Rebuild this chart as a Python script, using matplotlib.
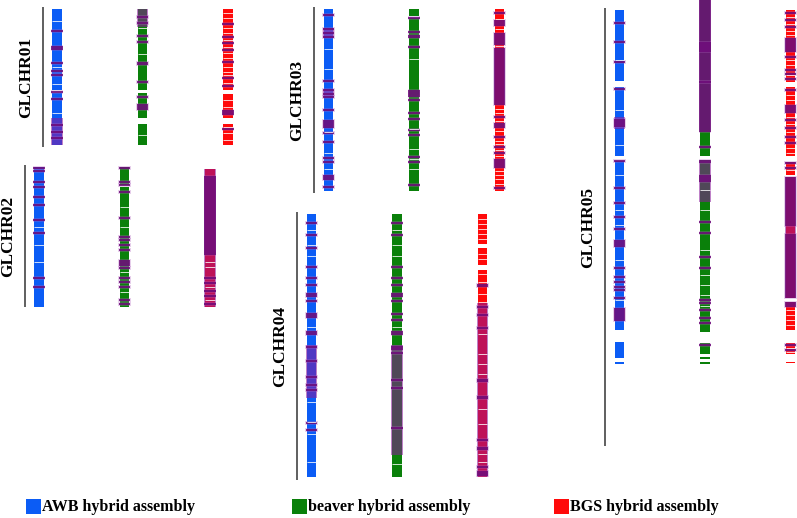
import matplotlib
matplotlib.use('Agg')
import matplotlib.pyplot as plt

# ---------------- data (positions along each chromosome, Mb-like units) ----------------
chromosomes = ['GLCHR01', 'GLCHR02', 'GLCHR03', 'GLCHR04', 'GLCHR05']
reference_length = [140, 142, 186, 268, 438]
assemblies = ['AWB hybrid assembly', 'beaver hybrid assembly', 'BGS hybrid assembly']
assembly_colors = ['#0b5cf5', '#0a800a', '#ff0a0a']

# AWB hybrid assembly
awb_segments = [
    [(0, 81), (84, 136)],
    [(0, 140)],
    [(0, 182)],
    [(0, 263)],
    [(0, 71), (77, 146), (151, 320), (332, 348), (352, 354)],
]
awb_bands = [
    [(21, 23), (37, 41), (53, 55), (61, 63), (65, 67), (82, 84), (89, 91), (115, 117), (122, 124), (128, 130)],
    [(0, 2), (3, 5), (14, 16), (19, 21), (29, 31), (37, 39), (52, 54), (65, 67), (110, 112), (119, 121)],
    [(5, 7), (19, 21), (23, 25), (27, 29), (71, 73), (80, 82), (84, 86), (87, 89), (100, 102), (111, 119),
     (123, 125), (132, 134), (148, 150), (152, 154), (166, 171), (177, 179)],
    [(8, 10), (20, 22), (33, 35), (52, 54), (63, 65), (70, 72), (79, 83), (86, 88), (99, 104), (117, 121),
     (132, 134), (146, 148), (162, 164), (170, 172), (175, 177), (208, 210), (215, 217)],
    [(12, 14), (31, 33), (51, 53), (78, 80), (109, 117), (150, 152), (177, 179), (192, 194), (206, 208),
     (218, 220), (230, 237), (257, 259), (266, 268), (271, 273), (276, 278), (279, 281), (287, 289), (298, 311)],
]
awb_blocks = [
    [(109, 136)],
    [],
    [(19, 29), (81, 88)],
    [(131, 184)],
    [(107, 119)],
]
awb_gaps = [
    [12, 58, 75, 104],
    [60, 78, 95],
    [40, 60, 123, 144, 160],
    [16, 31, 42, 113, 188, 208, 220, 248],
    [50, 100, 135, 165, 200, 215, 250, 290],
]

# beaver hybrid assembly
beaver_segments = [
    [(0, 81), (84, 109), (115, 136)],
    [(0, 18), (20, 140)],
    [(0, 7), (9, 182)],
    [(0, 263)],
    [(-10, 146), (150, 322), (333, 344), (347, 349), (352, 354)],
]
beaver_bands = [
    [(7, 9), (13, 15), (26, 28), (32, 34), (53, 56), (72, 74), (87, 89), (95, 101)],
    [(0, 2), (14, 16), (17, 19), (24, 26), (50, 52), (69, 71), (72, 74), (77, 79), (82, 84), (93, 99),
     (100, 102), (110, 112), (114, 116), (119, 121), (132, 134), (136, 138)],
    [(8, 10), (22, 24), (26, 29), (37, 39), (81, 88), (90, 92), (103, 105), (109, 111), (120, 122),
     (125, 127), (147, 149), (152, 154), (175, 177)],
    [(8, 10), (20, 22), (52, 54), (63, 65), (70, 72), (79, 83), (86, 88), (99, 101), (105, 107), (117, 121),
     (132, 136), (138, 140), (165, 167), (173, 175), (213, 215)],
    [(-10, 122), (32, 42), (71, 73), (136, 138), (150, 153), (165, 172), (211, 213), (222, 224), (246, 248),
     (257, 259), (289, 291), (292, 294), (299, 301), (307, 309), (312, 314), (334, 336)],
]
beaver_blocks = [
    [(0, 18)],
    [],
    [],
    [(131, 241)],
    [(151, 192)],
]
beaver_gaps = [
    [19, 45, 126],
    [40, 60, 105, 125],
    [50, 120, 140, 150, 160],
    [16, 31, 42, 113, 250],
    [180, 200, 240, 265, 275, 285, 296],
]

# BGS hybrid assembly
bgs_segments = [
    [(0, 81), (85, 109), (115, 136)],
    [(2, 140)],
    [(0, 182)],
    [(0, 30), (34, 51), (56, 263)],
    [(0, 72), (77, 146), (152, 165), (167, 288), (292, 320), (333, 344), (352, 353)],
]
bgs_bands = [
    [(14, 16), (27, 29), (33, 35), (40, 42), (52, 54), (68, 70), (76, 78), (101, 106), (119, 121)],
    [(9, 88), (110, 112), (115, 117), (123, 125), (128, 130), (136, 138)],
    [(3, 5), (11, 17), (24, 36), (39, 96), (107, 109), (114, 119), (127, 129), (137, 139), (143, 145),
     (150, 159), (178, 180)],
    [(70, 73), (92, 94), (100, 102), (113, 115), (165, 168), (182, 185), (225, 227), (233, 236),
     (252, 254), (257, 262)],
    [(2, 4), (9, 11), (16, 18), (28, 42), (46, 48), (59, 61), (63, 65), (68, 70), (79, 81), (95, 103),
     (109, 111), (117, 119), (126, 128), (132, 134), (152, 154), (157, 159), (167, 216), (224, 288),
     (292, 297), (334, 336), (339, 341)],
]
bgs_blocks = [
    [],
    [(2, 140)],
    [],
    [(89, 263)],
    [(216, 224)],
]
bgs_gaps = [
    [4, 9, 19, 24, 31, 38, 44, 49, 58, 63, 66, 74, 91, 98, 118, 124, 131],
    [95, 100, 120, 133],
    [10, 20, 37, 100, 104, 112, 122, 132, 135, 141, 147, 162, 166, 170, 175],
    [5, 10, 15, 20, 25, 40, 45, 60, 68, 80, 88, 120, 140, 150, 160, 195, 210, 240, 248],
    [7, 14, 21, 25, 50, 55, 65, 85, 90, 107, 114, 122, 138, 143, 160, 300, 305, 310, 315, 338, 342],
]

segments = [awb_segments, beaver_segments, bgs_segments]
bands = [awb_bands, beaver_bands, bgs_bands]
blocks = [awb_blocks, beaver_blocks, bgs_blocks]
gaps = [awb_gaps, beaver_gaps, bgs_gaps]

# ---------------- layout ----------------
panel_top = [9, 167, 9, 214, 10]
panel_left = [57, 39, 328.5, 311.5, 619.5]
column_gap = 85.5
bar_w = 9.5
band_w = 11.5
legend_x = [34, 300, 562]

W, H = 797, 518
fig = plt.figure(figsize=(W / 100, H / 100), dpi=100)
ax = fig.add_axes([0, 0, 1, 1])
ax.set_xlim(0, W)
ax.set_ylim(H, 0)
ax.axis('off')

band_color = '#6c0a78'
block_color = '#8a1a9a'

for i, name in enumerate(chromosomes):
    top = panel_top[i]
    line_x = panel_left[i] - 14
    ax.vlines(line_x, top - 2, top - 2 + reference_length[i], color='#444444', lw=1.2)
    ax.text(line_x - 17, top - 2 + reference_length[i] / 2, name, rotation=90,
            ha='center', va='center', fontsize=12.5, fontweight='bold',
            family='Liberation Serif', color='black')
    for j in range(3):
        xc = panel_left[i] + j * column_gap
        for s, e in segments[j][i]:
            ax.bar(xc, e - s, bottom=top + s, width=bar_w, color=assembly_colors[j],
                   linewidth=0, align='center')
        for g in gaps[j][i]:
            ax.hlines(top + g, xc - bar_w / 2, xc + bar_w / 2, color='white', lw=0.7, alpha=0.8)
        for s, e in blocks[j][i]:
            ax.bar(xc, e - s, bottom=top + s, width=band_w, color=block_color,
                   alpha=0.55, linewidth=0)
        for s, e in bands[j][i]:
            h = max(e - s, 1.6)
            ax.bar(xc, h + 2, bottom=top + s - 1, width=band_w + 1, color='#b060c0',
                   alpha=0.3, linewidth=0)
            ax.bar(xc, h, bottom=top + s, width=band_w, color=band_color,
                   alpha=0.85, linewidth=0)

# legend
for j, lab in enumerate(assemblies):
    ax.bar(legend_x[j], 15, bottom=499, width=15, color=assembly_colors[j], linewidth=0)
    ax.text(legend_x[j] + 8.5, 507, lab, ha='left', va='center', fontsize=11.5,
            fontweight='bold', family='Liberation Serif', color='black')

fig.savefig('out.png', dpi=100, facecolor='white')
